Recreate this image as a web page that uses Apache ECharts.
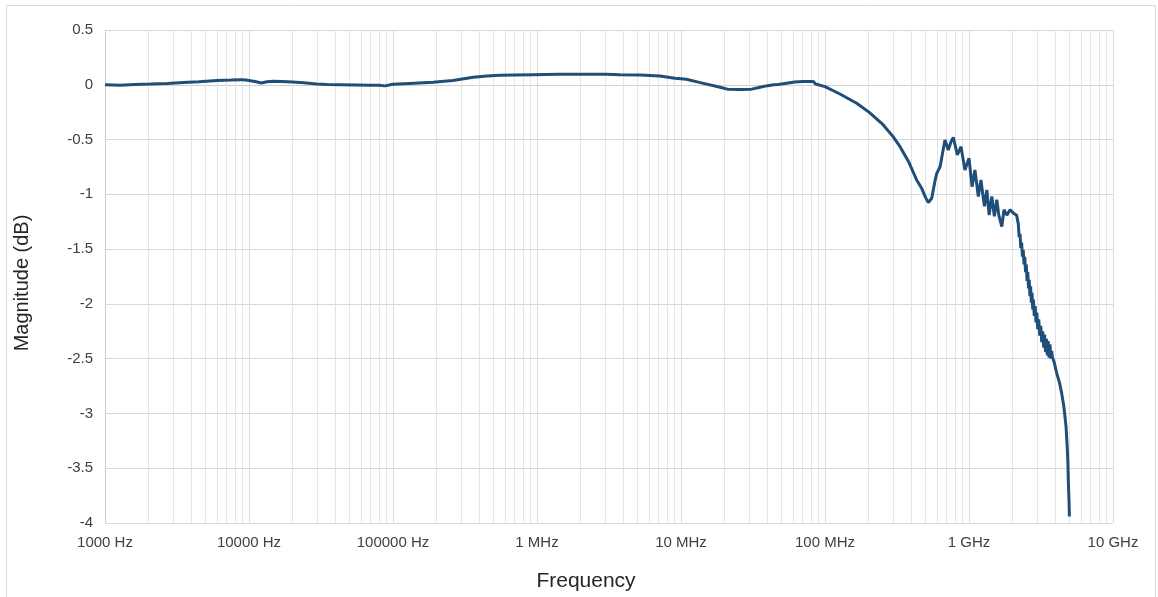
<!DOCTYPE html>
<html>
<head>
<meta charset="utf-8">
<script src="https://cdn.jsdelivr.net/npm/echarts@6/dist/echarts.min.js"></script>
<style>
html,body{margin:0;padding:0;background:#fff;}
#chart{width:1158px;height:597px;}
</style>
</head>
<body>
<div id="chart"></div>
<script>
// Frequency points (Hz) and magnitude (dB)
const freqHz = [
  1e3, 1.27e3, 1.6e3, 2.05e3, 2.7e3, 3.5e3, 4.5e3, 6e3, 7.5e3, 8.7e3, 9.5e3, 10.2e3, 11e3, 12.2e3, 13.3e3, 14.7e3, 17e3, 20e3, 24e3, 29.5e3,
  35e3, 43e3, 55e3, 69e3, 80e3, 88e3, 100e3, 130e3, 190e3, 260e3, 361e3, 450e3, 553e3, 700e3, 943e3, 1.4e6, 2.1e6, 3e6, 3.77e6, 5.19e6,
  7.14e6, 9.08e6, 10.9e6, 13.6e6, 18.7e6, 21e6, 26e6, 31e6, 35.4e6, 40e6, 44e6, 47.2e6, 48.6e6, 61.7e6, 70e6, 83e6, 86e6, 100e6, 127e6, 166e6,
  204e6, 254e6, 297e6, 332e6, 380e6, 433e6, 469e6, 500e6, 522e6, 551e6, 580e6, 597e6, 630e6, 660e6, 681e6, 700e6, 718e6, 750e6, 778e6,
  800e6, 830e6, 880e6, 937e6, 1.0e9, 1.05e9, 1.1e9, 1.16e9, 1.21e9, 1.28e9, 1.33e9, 1.38e9, 1.44e9, 1.5e9, 1.56e9, 1.61e9, 1.69e9, 1.75e9, 1.83e9, 1.93e9,
  2.03e9, 2.14e9, 2.2e9, 2.23e9, 2.26e9, 2.29e9, 2.32e9, 2.35e9, 2.38e9, 2.41e9, 2.44e9, 2.47e9, 2.5e9, 2.53e9, 2.56e9, 2.59e9, 2.62e9, 2.65e9, 2.68e9, 2.71e9,
  2.74e9, 2.77e9, 2.8e9, 2.84e9, 2.88e9, 2.92e9, 2.96e9, 3.0e9, 3.05e9, 3.1e9, 3.15e9, 3.2e9, 3.25e9, 3.3e9, 3.35e9, 3.4e9, 3.45e9, 3.5e9, 3.55e9, 3.6e9,
  3.65e9, 3.7e9, 3.75e9, 3.8e9, 3.9e9, 4.06e9, 4.25e9, 4.4e9, 4.55e9, 4.64e9, 4.72e9, 4.82e9, 4.86e9, 4.9e9, 4.95e9, 4.98e9
];
const magDb = [
  0.0, -0.005, 0.003, 0.007, 0.012, 0.02, 0.028, 0.04, 0.043, 0.047, 0.043, 0.037, 0.03, 0.016, 0.027, 0.032, 0.03, 0.026, 0.018, 0.007,
  0.003, 0.001, -0.002, -0.005, -0.004, -0.01, 0.004, 0.012, 0.023, 0.04, 0.068, 0.08, 0.087, 0.09, 0.092, 0.095, 0.096, 0.096, 0.092, 0.09,
  0.08, 0.059, 0.05, 0.02, -0.023, -0.04, -0.042, -0.04, -0.023, -0.008, 0.0, 0.003, 0.016, 0.026, 0.03, 0.03, 0.007, -0.017, -0.084, -0.169,
  -0.254, -0.367, -0.473, -0.565, -0.70, -0.869, -0.945, -1.03, -1.076, -1.036, -0.88, -0.81, -0.747, -0.6, -0.504, -0.55, -0.595, -0.52, -0.48,
  -0.55, -0.64, -0.565, -0.777, -0.67, -0.93, -0.777, -1.02, -0.869, -1.11, -0.96, -1.19, -1.02, -1.2, -1.05, -1.19, -1.295, -1.14, -1.19, -1.14,
  -1.17, -1.19, -1.27, -1.39, -1.36, -1.49, -1.44, -1.57, -1.51, -1.64, -1.57, -1.71, -1.64, -1.79, -1.71, -1.86, -1.78, -1.93, -1.84, -1.99,
  -1.90, -2.05, -1.96, -2.11, -2.02, -2.17, -2.08, -2.23, -2.14, -2.29, -2.20, -2.35, -2.25, -2.40, -2.28, -2.44, -2.32, -2.47, -2.34, -2.49,
  -2.37, -2.50, -2.43, -2.49, -2.53, -2.63, -2.72, -2.815, -2.93, -3.03, -3.12, -3.33, -3.45, -3.64, -3.8, -3.94
];
const xTickLabels = ['1000 Hz', '10000 Hz', '100000 Hz', '1 MHz', '10 MHz', '100 MHz', '1 GHz', '10 GHz'];
const xTitle = 'Frequency';
const yTitle = 'Magnitude (dB)';
const decades = [1e3, 1e4, 1e5, 1e6, 1e7, 1e8, 1e9];
const minorGrid = [];
decades.forEach(d => { for (let k = 2; k <= 9; k++) minorGrid.push(d * k); });

const data = freqHz.map((f, i) => [f, magDb[i]]);
const chart = echarts.init(document.getElementById('chart'), null, {renderer: 'canvas'});
const font = '"Liberation Sans", Arial, sans-serif';
chart.setOption({
  animation: false,
  backgroundColor: '#ffffff',
  graphic: [
    {
      type: 'rect', left: 4, top: 3, silent: true, z: -10,
      shape: {width: 1149, height: 600},
      style: {fill: 'none', stroke: '#d9d9d9', lineWidth: 1}
    },
    {
      type: 'text', x: 586, y: 581, silent: true,
      style: {text: xTitle, font: '21px ' + font, fill: '#262626', textAlign: 'center', textVerticalAlign: 'middle'}
    },
    {
      type: 'text', x: 22, y: 283, rotation: Math.PI / 2, silent: true,
      style: {text: yTitle, font: '20px ' + font, fill: '#262626', textAlign: 'center', textVerticalAlign: 'middle'}
    }
  ],
  grid: {left: 105, right: 45, top: 30, bottom: 74, containLabel: false},
  xAxis: {
    type: 'log', logBase: 10, min: 1e3, max: 1e10, splitNumber: 7,
    axisLine: {show: true, lineStyle: {color: '#d0d0d0', width: 1}},
    axisTick: {show: false},
    axisLabel: {
      fontFamily: font, fontSize: 15, color: '#404040', margin: 12,
      formatter: v => xTickLabels[Math.round(Math.log10(v)) - 3]
    },
    splitLine: {show: true, lineStyle: {color: '#d9d9d9', width: 1}}
  },
  yAxis: {
    type: 'value', min: -4, max: 0.5, interval: 0.5,
    axisLine: {show: true, lineStyle: {color: '#d0d0d0', width: 1}},
    axisTick: {show: false},
    axisLabel: {fontFamily: font, fontSize: 15, color: '#404040', margin: 12},
    splitLine: {show: true, lineStyle: {color: '#d9d9d9', width: 1}}
  },
  series: [
    {
      type: 'line', z: 1, silent: true, showSymbol: false,
      data: [[1e3, 0]], lineStyle: {opacity: 0},
      markLine: {
        z: 1, silent: true, symbol: 'none', label: {show: false},
        lineStyle: {color: '#e4e4e4', width: 1, type: 'solid'},
        emphasis: {disabled: true},
        data: minorGrid.map(v => ({xAxis: v}))
      }
    },
    {
      type: 'line', z: 10, data: data, showSymbol: false, smooth: false,
      lineStyle: {color: '#1f4e79', width: 3}
    }
  ]
});
</script>
</body>
</html>
